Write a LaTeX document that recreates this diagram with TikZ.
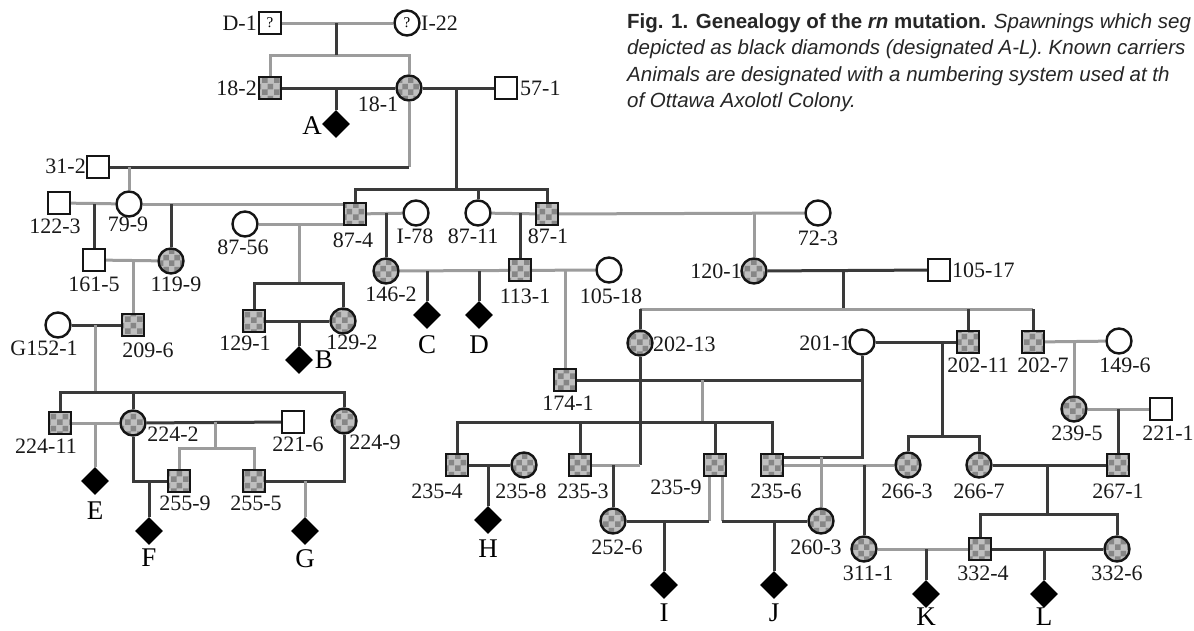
\documentclass[tikz,border=0pt]{standalone}
\usepackage{fontspec}
\setmainfont{Liberation Serif}
\newfontfamily\capfont{Liberation Sans}
\usetikzlibrary{shapes.geometric,patterns,calc}
\pgfdeclarelayer{bg}
\pgfdeclarelayer{paper}
\pgfsetlayers{paper,bg,main}
\definecolor{dkline}{HTML}{3A3A3A}
\definecolor{gyline}{HTML}{9C9C9C}
\definecolor{outl}{HTML}{151515}
\tikzset{
  male/.style={rectangle,draw=outl,line width=2.4pt,minimum size=22pt,inner sep=0pt,fill=white},
  fem/.style={circle,draw=outl,line width=2.4pt,minimum size=25pt,inner sep=0pt,fill=white},
  carrier/.style={fill=none,preaction={fill=gray!50},pattern=checkerboard,pattern color=gray!95},
  spawn/.style={diamond,fill=black,minimum width=28pt,minimum height=28pt,inner sep=0pt},
  lab/.style={font=\fontsize{22}{22}\selectfont,inner sep=0pt,text=black!90},
  dlab/.style={font=\fontsize{27}{27}\selectfont,inner sep=0pt},
  captext/.style={font=\capfont\fontsize{20.5}{25}\selectfont,inner sep=0pt,anchor=base west,text=black!85},
  dk/.style={draw=dkline,line width=3pt},
  gy/.style={draw=gyline,line width=3pt}
}
\begin{document}
\begin{tikzpicture}[x=1pt,y=-1pt]
\useasboundingbox (0,0) rectangle (1194,630);
\begin{pgfonlayer}{paper}
\fill[white] (0,0) rectangle (1194,630);
\end{pgfonlayer}
\begin{scope}
\clip (0,0) rectangle (1194,630);
% caption
\node[captext] (cap1) at (627,28) {{\bfseries Fig. 1. Genealogy of the \textit{rn} mutation.} \textit{Spawnings which seg}};
\node[captext] (cap2) at (627,54.5) {\textit{depicted as black diamonds (designated A-L). Known carriers}};
\node[captext] (cap3) at (627,81) {\textit{Animals are designated with a numbering system used at th}};
\node[captext] (cap4) at (627,107) {\textit{of Ottawa Axolotl Colony.}};
\end{scope}

% persons
\node[male] (nD1) at (270,23) {\fontsize{15}{15}\selectfont ?};
\node[fem] (nI22) at (407,23) {\fontsize{15}{15}\selectfont ?};
\node[male,carrier] (n182) at (270,88) {};
\node[fem,carrier] (n181) at (409,88) {};
\node[male] (n571) at (506,88) {};
\node[male] (n312) at (98,167) {};
\node[male] (n1223) at (59,203) {};
\node[fem] (n799) at (129,204) {};
\node[fem] (n8756) at (245,224) {};
\node[male,carrier] (n874) at (355,214) {};
\node[fem] (nI78) at (416,213) {};
\node[fem] (n8711) at (478,213) {};
\node[male,carrier] (n871) at (547,214) {};
\node[fem] (n723) at (818,213) {};
\node[male] (n1615) at (94,260) {};
\node[fem,carrier] (n1199) at (171,261) {};
\node[fem,carrier] (n1462) at (386,271) {};
\node[male,carrier] (n1131) at (520,270) {};
\node[fem] (n10518) at (609,270) {};
\node[fem,carrier] (n1201) at (754,271) {};
\node[male] (n10517) at (939,270) {};
\node[male,carrier] (n1291) at (254,321) {};
\node[fem,carrier] (n1292) at (343,321) {};
\node[fem] (nG1521) at (58,325) {};
\node[male,carrier] (n2096) at (133,325) {};
\node[fem,carrier] (n20213) at (640,343) {};
\node[fem] (n20110) at (862,342) {};
\node[male,carrier] (n20211) at (968,342) {};
\node[male,carrier] (n2027) at (1033,342) {};
\node[fem] (n1496) at (1119,341) {};
\node[male,carrier] (n1741) at (565,380) {};
\node[fem,carrier] (n2395) at (1074,409) {};
\node[male] (n2211) at (1161,409) {};
\node[male,carrier] (n22411) at (60,423) {};
\node[fem,carrier] (n2242) at (133,423) {};
\node[male] (n2216) at (293,422) {};
\node[fem,carrier] (n2249) at (344,421) {};
\node[male,carrier] (n2354) at (457,465) {};
\node[fem,carrier] (n2358) at (524,465) {};
\node[male,carrier] (n2353) at (580,465) {};
\node[male,carrier] (n2359) at (715,465) {};
\node[male,carrier] (n2356) at (772,465) {};
\node[fem,carrier] (n2663) at (908,465) {};
\node[fem,carrier] (n2667) at (979,465) {};
\node[male,carrier] (n2671) at (1118,465) {};
\node[male,carrier] (n2559) at (179,481) {};
\node[male,carrier] (n2555) at (254,481) {};
\node[fem,carrier] (n2526) at (613,521) {};
\node[fem,carrier] (n2603) at (821,521) {};
\node[fem,carrier] (n3111) at (864,549) {};
\node[male,carrier] (n3324) at (980,549) {};
\node[fem,carrier] (n3326) at (1117,549) {};

% spawnings
\node[spawn] (dA) at (336,124) {};
\node[spawn] (dB) at (299,360) {};
\node[spawn] (dC) at (427,315) {};
\node[spawn] (dD) at (479,315) {};
\node[spawn] (dE) at (95,481) {};
\node[spawn] (dF) at (149,531) {};
\node[spawn] (dG) at (305,531) {};
\node[spawn] (dH) at (488,520) {};
\node[spawn] (dI) at (664,585) {};
\node[spawn] (dJ) at (774,585) {};
\node[spawn] (dK) at (926,594) {};
\node[spawn] (dL) at (1044,594) {};

% spawning letters
\node[dlab] (tA) at (312,126) {A};
\node[dlab] (tB) at (324,360) {B};
\node[dlab] (tC) at (427,345) {C};
\node[dlab] (tD) at (479,345) {D};
\node[dlab] (tE) at (95,511) {E};
\node[dlab] (tF) at (149,558) {F};
\node[dlab] (tG) at (305,559) {G};
\node[dlab] (tH) at (488,549) {H};
\node[dlab] (tI) at (664,613) {I};
\node[dlab] (tJ) at (774,613) {J};
\node[dlab] (tK) at (926,617) {K};
\node[dlab] (tL) at (1044,617) {L};

% labels
\node[lab,anchor=east] (lD1) at (257,23) {D-1};
\node[lab,anchor=west] (lI22) at (421,23) {I-22};
\node[lab,anchor=east] (l182) at (257,88) {18-2};
\node[lab] (l181) at (378,104) {18-1};
\node[lab,anchor=west] (l571) at (520,88) {57-1};
\node[lab,anchor=east] (l312) at (86,166) {31-2};
\node[lab] (l1223) at (55,226) {122-3};
\node[lab] (l799) at (128,224) {79-9};
\node[lab] (l8756) at (243,247) {87-56};
\node[lab] (l874) at (353,240) {87-4};
\node[lab] (lI78) at (415,236) {I-78};
\node[lab] (l8711) at (473,236) {87-11};
\node[lab] (l871) at (548,236) {87-1};
\node[lab] (l723) at (818,238) {72-3};
\node[lab] (l1615) at (94,284) {161-5};
\node[lab] (l1199) at (176,284) {119-9};
\node[lab] (l1462) at (391,294) {146-2};
\node[lab] (l1131) at (525,296) {113-1};
\node[lab] (l10518) at (611,296) {105-18};
\node[lab,anchor=east] (l1201) at (742,271) {120-1};
\node[lab,anchor=west] (l10517) at (952,270) {105-17};
\node[lab] (l1291) at (245,343) {129-1};
\node[lab] (l1292) at (352,342) {129-2};
\node[lab] (lG1521) at (44,348) {G152-1};
\node[lab] (l2096) at (148,350) {209-6};
\node[lab,anchor=west] (l20213) at (653,344) {202-13};
\node[lab,anchor=east] (l20110) at (851,343) {201-1};
\node[lab] (l20211) at (978,365) {202-11};
\node[lab] (l2027) at (1043,365) {202-7};
\node[lab] (l1496) at (1125,365) {149-6};
\node[lab] (l1741) at (568,403) {174-1};
\node[lab] (l2395) at (1077,433) {239-5};
\node[lab] (l2211) at (1168,433) {221-1};
\node[lab] (l22411) at (46,446) {224-11};
\node[lab] (l2242) at (173,434) {224-2};
\node[lab] (l2216) at (298,444) {221-6};
\node[lab] (l2249) at (375,442) {224-9};
\node[lab] (l2354) at (437,491) {235-4};
\node[lab] (l2358) at (521,491) {235-8};
\node[lab] (l2353) at (583,491) {235-3};
\node[lab] (l2359) at (676,487) {235-9};
\node[lab] (l2356) at (776,491) {235-6};
\node[lab] (l2663) at (907,491) {266-3};
\node[lab] (l2667) at (979,491) {266-7};
\node[lab] (l2671) at (1118,491) {267-1};
\node[lab] (l2559) at (185,503) {255-9};
\node[lab] (l2555) at (256,503) {255-5};
\node[lab] (l2526) at (617,547) {252-6};
\node[lab] (l2603) at (816,547) {260-3};
\node[lab] (l3111) at (868,573) {311-1};
\node[lab] (l3324) at (983,573) {332-4};
\node[lab] (l3326) at (1117,573) {332-6};

% connectors
\begin{pgfonlayer}{bg}
\coordinate (j1) at (336,23);
\coordinate (s1) at (336,55);
\draw[gy] (nD1) -- (nI22);
\draw[gy] (n182) |- (s1) -| (n181);
\draw[dk] (j1) -- (s1);
\draw[dk] (n182) -- (n181);
\draw[dk] (dA |- n182) -- (dA);
\draw[dk] (n181) -- (n571);
\coordinate (j2) at (456,88);
\coordinate (s2) at (456,189);
\draw[dk] (j2) -- (s2);
\draw[dk] (n874) |- (s2) -| (n871);
\draw[dk] (n8711 |- s2) -- (n8711);
\draw[gy] (n181) -- (n181 |- n312);
\draw[dk] (n312) -- (n181 |- n312);
\draw[gy] (n799 |- n312) -- (n799);
\draw[gy] (n1223) -- (n799);
\draw[dk] (n1615 |- n799) -- (n1615);
\draw[gy] (n799) -- (n874 |- n799);
\draw[dk] (n1199 |- n799) -- (n1199);
\draw[gy] (n1615) -- (n1199);
\draw[gy] (n2096 |- n1615) -- (n2096);
\draw[dk] (nG1521) -- (n2096);
\coordinate (s3) at (95,392);
\draw[gy] (s3 |- n2096) -- (s3);
\draw[dk] (n22411) |- (s3) -| (n2249);
\draw[dk] (n2242 |- s3) -- (n2242);
\draw[gy] (n22411) -- (n2242);
\draw[gy] (dE |- n2242) -- (dE);
\draw[dk] (n2242) -- (n2216);
\coordinate (s4) at (215,448);
\draw[gy] (s4 |- n2216) -- (s4);
\draw[gy] (n2559) |- (s4) -| (n2555);
\draw[dk] (n2242) |- (n2559);
\draw[dk] (dF |- n2559) -- (dF);
\draw[dk] (n2555) -| (n2249);
\draw[gy] (dG |- n2555) -- (dG);
\draw[gy] (n8756) -- (n874 |- n8756);
\coordinate (s5) at (299,283);
\draw[gy] (s5 |- n8756) -- (s5);
\draw[dk] (n1291) |- (s5) -| (n1292);
\draw[dk] (n1291) -- (n1292);
\draw[dk] (dB |- n1291) -- (dB);
\draw[gy] (n874) -- (nI78);
\draw[dk] (n1462 |- nI78) -- (n1462);
\draw[gy] (n8711) -- (n871);
\draw[dk] (n1131 |- n8711) -- (n1131);
\draw[gy] (n871) -- (n723);
\draw[gy] (n1201 |- n723) -- (n1201);
\draw[gy] (n1462) -- (n10518);
\draw[dk] (dC |- n1462) -- (dC);
\draw[dk] (dD |- n1462) -- (dD);
\draw[gy] (n1741 |- n1131) -- (n1741);
\draw[dk] (n1201) -- (n10517);
\coordinate (s6) at (843,309);
\draw[dk] (s6 |- n1201) -- (s6);
\draw[gy] (n20213 |- s6) -- (n2027 |- s6);
\draw[dk] (n20213 |- s6) -- (n20213);
\draw[dk] (n20211 |- s6) -- (n20211);
\draw[dk] (n2027 |- s6) -- (n2027);
\draw[dk] (n1741) -| (n20110);
\coordinate (s7) at (702,422);
\draw[gy] (s7 |- n1741) -- (s7);
\draw[dk] (n2354) |- (s7) -| (n2356);
\draw[dk] (n2353 |- s7) -- (n2353);
\draw[dk] (n2359 |- s7) -- (n2359);
\draw[dk] (n20213) -- (n20213 |- n2353);
\draw[gy] (n20213 |- n2353) -- (n2353);
\draw[dk] (n2526 |- n2353) -- (n2526);
\draw[dk] (n2354) -- (n2358);
\draw[dk] (dH |- n2354) -- (dH);
\coordinate (p1) at (709,465);
\coordinate (p2) at (722,465);
\draw[gy] (p1) -- (p1 |- n2526);
\draw[dk] (p1 |- n2526) -- (n2526);
\draw[dk] (dI |- n2526) -- (dI);
\draw[gy] (p2) -- (p2 |- n2603);
\draw[dk] (p2 |- n2603) -- (n2603);
\draw[dk] (dJ |- n2603) -- (dJ);
\coordinate (p3) at (772,457);
\draw[dk] (p3) -| (n20110);
\draw[gy] (n2603 |- p3) -- (n2603);
\draw[gy] (n2356) -- (n2663);
\draw[dk] (n3111 |- n2663) -- (n3111);
\draw[dk] (n20110) -- (n20211);
\coordinate (s8) at (942,436);
\draw[dk] (s8 |- n20211) -- (s8);
\draw[dk] (n2663) |- (s8) -| (n2667);
\draw[gy] (n2027) -- (n1496);
\draw[gy] (n2395 |- n2027) -- (n2395);
\draw[gy] (n2395) -- (n2211);
\draw[dk] (n2671 |- n2395) -- (n2671);
\draw[dk] (n2667) -- (n2671);
\coordinate (s9) at (1047,514);
\draw[dk] (s9 |- n2671) -- (s9);
\draw[dk] (n3324) |- (s9) -| (n3326);
\draw[gy] (n3111) -- (n3324);
\draw[dk] (n3324) -- (n3326);
\draw[dk] (dK |- n3111) -- (dK);
\draw[dk] (dL |- n3111) -- (dL);
\end{pgfonlayer}
\end{tikzpicture}
\end{document}
